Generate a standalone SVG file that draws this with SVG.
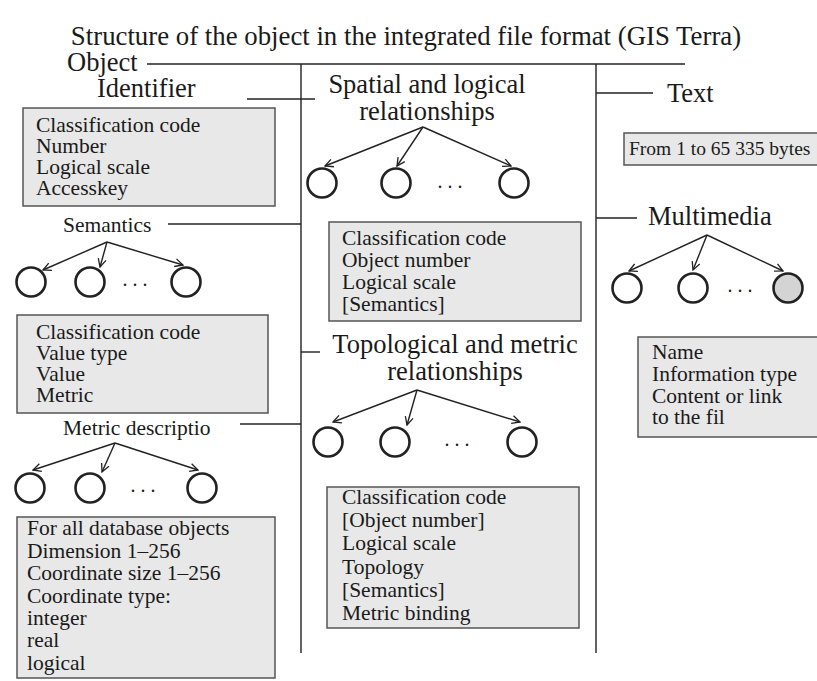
<svg xmlns="http://www.w3.org/2000/svg" width="817" height="681" viewBox="0 0 817 681">
<style>
text{font-family:"Liberation Serif","Times New Roman",serif;fill:#1a1a1a}
.title{font-size:26.8px}
.big{font-size:26.5px}
.mid{font-size:21.5px}
.sm{font-size:19.5px}
.box{fill:#e8e8e8;stroke:#555;stroke-width:1.5}
.ln{stroke:#222;stroke-width:1.4;fill:none}
.arr{stroke:#222;stroke-width:1.4;fill:none;marker-end:url(#ah)}
.c{fill:#fff;stroke:#222;stroke-width:2.6}
.dots{font-size:20px}
</style>
<defs>
<marker id="ah" viewBox="0 0 10 10" refX="9" refY="5" markerWidth="10" markerHeight="10" markerUnits="userSpaceOnUse" orient="auto">
<path d="M1,1 L9,5 L1,9" fill="none" stroke="#222" stroke-width="1.3"/>
</marker>
</defs>
<rect width="817" height="681" fill="#fff"/>
<text class="title" x="406" y="45" text-anchor="middle">Structure of the object in the integrated file format (GIS Terra)</text>

<g id="connectors">
<line class="ln" x1="147" y1="64" x2="685" y2="64"/>
<line class="ln" x1="301" y1="64" x2="301" y2="653"/>
<line class="ln" x1="596" y1="64" x2="596" y2="653"/>
<line class="ln" x1="247" y1="99" x2="315" y2="99"/>
<line class="ln" x1="168" y1="224" x2="301" y2="224"/>
<line class="ln" x1="240" y1="424" x2="301" y2="424"/>
<line class="ln" x1="301" y1="352" x2="320" y2="352"/>
<line class="ln" x1="596" y1="93" x2="653" y2="93"/>
<line class="ln" x1="596" y1="218" x2="637" y2="218"/>
<path class="arr" d="M423,127 L325,166"/>
<path class="arr" d="M423,127 L397,166"/>
<path class="arr" d="M423,127 L511,166"/>
<path class="arr" d="M107,242 L43,270"/>
<path class="arr" d="M107,242 L100,267"/>
<path class="arr" d="M107,242 L183,265"/>
<path class="arr" d="M115,443 L33,470"/>
<path class="arr" d="M115,443 L102,472"/>
<path class="arr" d="M115,443 L198,470"/>
<path class="arr" d="M417,390 L333,422"/>
<path class="arr" d="M417,390 L407,425"/>
<path class="arr" d="M417,390 L520,422"/>
<path class="arr" d="M707,235 L629,271"/>
<path class="arr" d="M707,235 L693,270"/>
<path class="arr" d="M707,235 L783,271"/>
</g>

<g id="object"><text class="big" x="67" y="71">Object</text></g>

<g id="identifier">
<text class="big" x="97" y="97">Identifier</text>
<rect class="box" x="23" y="108" width="252" height="98"/>
<text class="mid" x="36" y="132">Classification code</text>
<text class="mid" x="36" y="153">Number</text>
<text class="mid" x="36" y="174">Logical scale</text>
<text class="mid" x="36" y="195">Accesskey</text>
</g>

<g id="semantics">
<text class="mid" x="63" y="232">Semantics</text>
<circle class="c" cx="31" cy="282" r="14.5"/>
<circle class="c" cx="90" cy="282" r="14.5"/>
<circle class="c" cx="186" cy="282" r="14.5"/>
<text class="dots" x="135" y="286" text-anchor="middle">. . .</text>
<rect class="box" x="17" y="315" width="251" height="98"/>
<text class="mid" x="36" y="339">Classification code</text>
<text class="mid" x="36" y="360">Value type</text>
<text class="mid" x="36" y="381">Value</text>
<text class="mid" x="36" y="402">Metric</text>
</g>

<g id="metric">
<text class="mid" x="63" y="435">Metric descriptio</text>
<circle class="c" cx="30" cy="488" r="14.5"/>
<circle class="c" cx="90" cy="488" r="14.5"/>
<circle class="c" cx="202" cy="488" r="14.5"/>
<text class="dots" x="143" y="492" text-anchor="middle">. . .</text>
<rect class="box" x="17" y="517" width="258" height="161"/>
<text class="mid" x="27" y="535">For all database objects</text>
<text class="mid" x="27" y="558">Dimension 1–256</text>
<text class="mid" x="27" y="580">Coordinate size 1–256</text>
<text class="mid" x="27" y="603">Coordinate type:</text>
<text class="mid" x="27" y="625">integer</text>
<text class="mid" x="27" y="647">real</text>
<text class="mid" x="27" y="670">logical</text>
</g>

<g id="spatial">
<text class="big" x="427" y="93" text-anchor="middle">Spatial and logical</text>
<text class="big" x="427" y="120" text-anchor="middle">relationships</text>
<circle class="c" cx="322" cy="183" r="14.5"/>
<circle class="c" cx="396" cy="183" r="14.5"/>
<circle class="c" cx="514" cy="183" r="14.5"/>
<text class="dots" x="450" y="188" text-anchor="middle">. . .</text>
<rect class="box" x="329" y="222" width="252" height="99"/>
<text class="mid" x="342" y="245">Classification code</text>
<text class="mid" x="342" y="267">Object number</text>
<text class="mid" x="342" y="289">Logical scale</text>
<text class="mid" x="342" y="311">[Semantics]</text>
</g>

<g id="topological">
<text class="big" x="455" y="353" text-anchor="middle">Topological and metric</text>
<text class="big" x="455" y="380" text-anchor="middle">relationships</text>
<circle class="c" cx="328" cy="442" r="14.5"/>
<circle class="c" cx="395" cy="442" r="14.5"/>
<circle class="c" cx="522" cy="442" r="14.5"/>
<text class="dots" x="457" y="446" text-anchor="middle">. . .</text>
<rect class="box" x="327" y="487" width="252" height="141"/>
<text class="mid" x="342" y="504">Classification code</text>
<text class="mid" x="342" y="527">[Object number]</text>
<text class="mid" x="342" y="550">Logical scale</text>
<text class="mid" x="342" y="574">Topology</text>
<text class="mid" x="342" y="597">[Semantics]</text>
<text class="mid" x="342" y="620">Metric binding</text>
</g>

<g id="text-node">
<text class="big" x="667" y="102">Text</text>
<rect class="box" x="624" y="133" width="194" height="32"/>
<text class="sm" x="629" y="155">From 1 to 65 335 bytes</text>
</g>

<g id="multimedia">
<text class="big" x="648" y="225">Multimedia</text>
<circle class="c" cx="627" cy="288" r="14.5"/>
<circle class="c" cx="693" cy="288" r="14.5"/>
<circle class="c" cx="788" cy="288" r="14.5" style="fill:#d4d4d4"/>
<text class="dots" x="740" y="292" text-anchor="middle">. . .</text>
<rect class="box" x="638" y="337" width="180" height="100"/>
<text class="mid" x="652" y="359">Name</text>
<text class="mid" x="652" y="381">Information type</text>
<text class="mid" x="652" y="403">Content or link</text>
<text class="mid" x="652" y="424">to the fil</text>
</g>
</svg>
